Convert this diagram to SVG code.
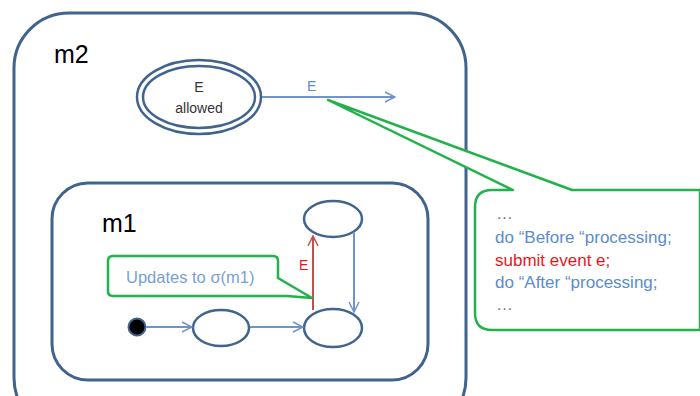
<svg xmlns="http://www.w3.org/2000/svg" width="700" height="396" viewBox="0 0 700 396">
  <defs>
    <marker id="openArrow" viewBox="0 0 12 12" refX="11" refY="6" markerWidth="12" markerHeight="12" markerUnits="userSpaceOnUse" orient="auto">
      <path d="M1,1 L11,6 L1,11" fill="none" stroke="#6f93cc" stroke-width="1.5"/>
    </marker>
    <marker id="openArrowRed" viewBox="0 0 12 12" refX="11" refY="6" markerWidth="12" markerHeight="12" markerUnits="userSpaceOnUse" orient="auto">
      <path d="M1,1 L11,6 L1,11" fill="none" stroke="#c0504d" stroke-width="1.5"/>
    </marker>
  </defs>
  <style>
    .box { fill: #ffffff; stroke: #41648f; stroke-width: 3; }
    .state { fill: #ffffff; stroke: #41648f; stroke-width: 2.5; }
    .edge { fill: none; stroke: #6f93cc; stroke-width: 2; marker-end: url(#openArrow); }
    .callout { fill: #ffffff; stroke: #22b24c; stroke-width: 2.5; stroke-linejoin: round; }
    .title { font-family: "Liberation Sans", Arial, sans-serif; font-size: 25px; fill: #000000; }
    .small { font-family: "Liberation Sans", Arial, sans-serif; font-size: 14px; fill: #333333; text-anchor: middle; }
    .code { font-family: "Liberation Sans", Arial, sans-serif; font-size: 17px; }
    .blue { fill: #5b8bd0; }
    .red { fill: #e8171c; }
    .grey { fill: #777777; }
  </style>
  <rect width="700" height="396" fill="#ffffff"/>

  <!-- composite state m2 -->
  <g id="m2">
    <rect class="box" x="14" y="13" width="452" height="420" rx="55"/>
    <text class="title" x="54" y="63">m2</text>
  </g>

  <!-- E allowed state -->
  <g id="e-allowed">
    <ellipse class="state" cx="199" cy="97" rx="62" ry="37"/>
    <ellipse class="state" cx="199" cy="97" rx="56" ry="31" stroke-width="2"/>
    <text class="small" x="199" y="92">E</text>
    <text class="small" x="199" y="113">allowed</text>
  </g>

  <!-- composite state m1 -->
  <g id="m1">
    <rect class="box" x="52" y="183" width="376" height="197" rx="36"/>
    <text class="title" x="102" y="232">m1</text>
  </g>

  <g id="initial">
    <circle cx="137" cy="327" r="8.5" fill="#000000" stroke="#41648f" stroke-width="2"/>
  </g>
  <g id="s1">
    <ellipse class="state" cx="221" cy="328" rx="28" ry="18"/>
  </g>
  <g id="s2">
    <ellipse class="state" cx="333" cy="328" rx="29" ry="19"/>
  </g>
  <g id="s3">
    <ellipse class="state" cx="333" cy="219" rx="29" ry="18"/>
  </g>

  <!-- transitions -->
  <g id="connectors">
    <line class="edge" x1="146" y1="327" x2="192" y2="327"/>
    <line class="edge" x1="250" y1="327" x2="303" y2="327"/>
    <line class="edge" x1="354" y1="232" x2="354" y2="312"/>
    <line x1="313" y1="310" x2="313" y2="236" fill="none" stroke="#c0504d" stroke-width="2" marker-end="url(#openArrowRed)"/>
    <text class="red" x="299" y="270" font-family="Liberation Sans, Arial, sans-serif" font-size="14">E</text>
    <line class="edge" x1="262" y1="97" x2="395" y2="97"/>
    <text class="blue" x="307" y="91" font-family="Liberation Sans, Arial, sans-serif" font-size="14">E</text>
  </g>

  <!-- note on the m1 update -->
  <g id="note-update">
    <path class="callout" d="M108,261 Q108,256 113,256 H273 Q278,256 278,261 V278 L312,298 L287,296 H113 Q108,296 108,291 Z"/>
    <text class="blue" x="126" y="283" font-family="Liberation Sans, Arial, sans-serif" font-size="16.5" fill-opacity="0.85">Updates to σ(m1)</text>
  </g>

  <!-- note on the E action -->
  <g id="note-action">
    <path class="callout" d="M328,100 L513,190 H492 Q475,190 475,207 V313 Q475,330 492,330 H700 V190 H572 Z"/>
    <text class="code grey" x="496" y="219">…</text>
    <text class="code blue" x="495" y="243">do “Before “processing;</text>
    <text class="code red" x="495" y="266">submit event e;</text>
    <text class="code blue" x="495" y="288">do “After “processing;</text>
    <text class="code grey" x="496" y="310">…</text>
  </g>
</svg>
